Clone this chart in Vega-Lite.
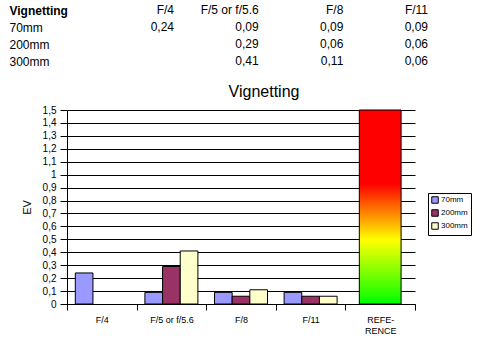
{
  "$schema": "https://vega.github.io/schema/vega-lite/v6.json",
  "padding": {"left": 9, "top": 0, "right": 0, "bottom": 0},
  "bounds": "flush",
  "spacing": 40,
  "config": {
    "font": "Liberation Sans",
    "view": {"stroke": null},
    "locale": {"number": {"decimal": ",", "thousands": ".", "grouping": [3], "currency": ["", " €"]}}
  },
  "datasets": {
    "vals": [
      {"series": "70mm", "aperture": "F/4", "value": 0.24},
      {"series": "70mm", "aperture": "F/5 or f/5.6", "value": 0.09},
      {"series": "200mm", "aperture": "F/5 or f/5.6", "value": 0.29},
      {"series": "300mm", "aperture": "F/5 or f/5.6", "value": 0.41},
      {"series": "70mm", "aperture": "F/8", "value": 0.09},
      {"series": "200mm", "aperture": "F/8", "value": 0.06},
      {"series": "300mm", "aperture": "F/8", "value": 0.11},
      {"series": "70mm", "aperture": "F/11", "value": 0.09},
      {"series": "200mm", "aperture": "F/11", "value": 0.06},
      {"series": "300mm", "aperture": "F/11", "value": 0.06}
    ],
    "cols": [
      {"aperture": "F/4"},
      {"aperture": "F/5 or f/5.6"},
      {"aperture": "F/8"},
      {"aperture": "F/11"}
    ]
  },
  "vconcat": [
    {
      "width": 348,
      "height": 70,
      "layer": [
        {
          "data": {"name": "cols"},
          "mark": {"type": "text", "align": "right", "baseline": "middle", "fontSize": 12, "color": "black"},
          "encoding": {
            "x": {"field": "aperture", "type": "nominal", "scale": {"type": "point", "domain": ["F/4", "F/5 or f/5.6", "F/8", "F/11"], "range": [107, 361], "padding": 0}, "axis": null},
            "y": {"datum": "Vignetting", "type": "nominal",
                  "scale": {"type": "point", "domain": ["Vignetting", "70mm", "200mm", "300mm"], "range": [10, 61], "padding": 0},
                  "axis": {"title": null, "domain": false, "ticks": false, "tickSize": 0, "grid": false, "labelAlign": "left", "labelBaseline": "middle", "labelPadding": 58, "labelFontSize": 12, "labelColor": "black",
                           "labelFontWeight": {"condition": {"test": "datum.value === 'Vignetting'", "value": "bold"}, "value": "normal"}}},
            "text": {"field": "aperture"}
          }
        },
        {
          "data": {"name": "vals"},
          "mark": {"type": "text", "align": "right", "baseline": "middle", "fontSize": 12, "color": "black"},
          "encoding": {
            "x": {"field": "aperture", "type": "nominal"},
            "y": {"field": "series", "type": "nominal"},
            "text": {"field": "value", "type": "quantitative", "format": ".2f"}
          }
        }
      ]
    },
    {
      "width": 348,
      "height": 194,
      "title": {"text": "Vignetting", "fontSize": 16, "fontWeight": "normal", "color": "black", "anchor": "middle", "dx": 23, "offset": 5},
      "layer": [
        {
          "data": {"name": "vals"},
          "mark": {"type": "bar", "stroke": "black", "strokeWidth": 1},
          "encoding": {
            "x": {"field": "aperture", "type": "nominal",
                  "scale": {"domain": ["F/4", "F/5 or f/5.6", "F/8", "F/11", "REFE-\nRENCE"], "paddingInner": 0, "paddingOuter": 0},
                  "axis": {"title": null, "labelAngle": 0, "tickBand": "extent", "tickSize": 6, "tickColor": "black", "domainColor": "black", "labelColor": "black", "labelFontSize": 9, "labelPadding": 5, "labelLineHeight": 11, "labelExpr": "split(datum.label, '\\n')", "grid": false}},
            "xOffset": {"field": "series", "type": "nominal", "scale": {"domain": ["70mm", "200mm", "300mm"], "paddingInner": 0, "paddingOuter": 0.47}},
            "y": {"field": "value", "type": "quantitative",
                  "scale": {"domain": [0, 1.5], "nice": false},
                  "axis": {"title": "EV", "titleFontSize": 11, "titleFontWeight": "normal", "titleColor": "black", "titlePadding": 10, "tickCount": 15, "format": "~g", "labelFontSize": 10, "labelColor": "black", "tickSize": 7, "tickColor": "black", "labelPadding": 4, "domainColor": "black", "grid": true, "gridColor": "black", "gridOpacity": 1}},
            "color": {"field": "series", "type": "nominal",
                      "scale": {"domain": ["70mm", "200mm", "300mm"], "range": ["#9999ff", "#993366", "#ffffcc"]},
                      "legend": {"title": null, "orient": "none", "legendX": 361, "legendY": 193, "strokeColor": "black", "fillColor": "white", "padding": 3, "symbolType": "square", "symbolSize": 42, "symbolStrokeColor": "black", "symbolStrokeWidth": 1, "labelFontSize": 8, "labelColor": "black", "rowPadding": 1, "labelOffset": 2}}
          }
        },
        {
          "data": {"values": [{"aperture": "REFE-\nRENCE", "value": 1.5}]},
          "mark": {"type": "bar", "stroke": "black", "strokeWidth": 1, "width": {"band": 0.6},
                   "fill": {"gradient": "linear", "x1": 0, "y1": 1, "x2": 0, "y2": 0,
                            "stops": [{"offset": 0, "color": "#00ff00"}, {"offset": 0.33, "color": "#ffff00"}, {"offset": 0.62, "color": "#ff0000"}, {"offset": 1, "color": "#ff0000"}]}},
          "encoding": {
            "x": {"field": "aperture", "type": "nominal"},
            "y": {"field": "value", "type": "quantitative"}
          }
        }
      ]
    }
  ]
}
